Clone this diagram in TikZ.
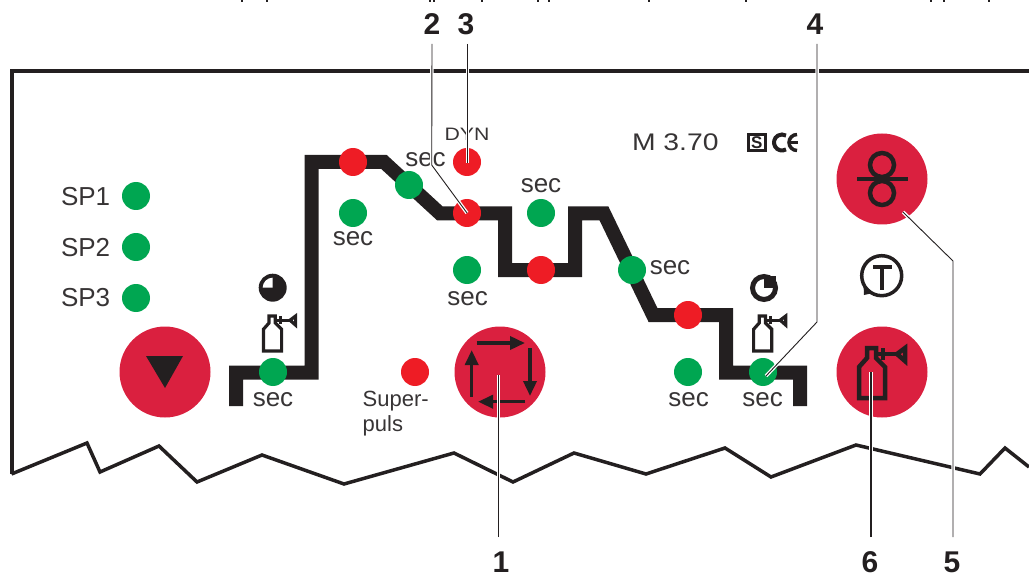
\documentclass[tikz,border=0pt]{standalone}
\usepackage{xcolor}
\usepackage{fontspec}
\usepackage{tikz}
\usetikzlibrary{arrows.meta}
\setmainfont{Liberation Sans}
\newfontfamily\widefont[FakeStretch=1.18]{Liberation Sans}
\definecolor{ink}{RGB}{35, 31, 32}
\definecolor{grey}{RGB}{55, 52, 53}
\definecolor{button}{RGB}{218, 32, 63}
\definecolor{ledred}{RGB}{238, 28, 37}
\definecolor{ledgreen}{RGB}{0, 166, 81}
\tikzset{
  pics/gasflask/.style={code={
    \draw[ink, miter limit=6] (-13,0) -- (-13,-31) -- (-5,-40) -- (-5,-50) -- (4,-50) -- (4,-40) -- (13,-31) -- (13,0) -- cycle;
    \draw[ink] (4,-44) -- (25,-44);
    \draw[ink] (11,-50) -- (11,-38);
    \draw[ink, miter limit=6] (25,-44) -- (33,-50) -- (33,-37) -- cycle;
  }}
}
\begin{document}
\begin{tikzpicture}[x=1pt, y=-1pt,
    every node/.style={inner sep=0pt, outer sep=0pt, text=grey},
    panel/.style={font=\fontsize{26}{30}\selectfont, anchor=base},
    small/.style={font=\fontsize{22}{25}\selectfont, anchor=base west},
    wide/.style={anchor=base},
    numlabel/.style={font=\fontsize{30}{30}\selectfont\bfseries, text=ink, text height=22pt, text depth=0pt, inner xsep=0pt},
    led/.style={circle, minimum size=28pt},
    reddot/.style={led, fill=ledred},
    greendot/.style={led, fill=ledgreen},
    pushbutton/.style={circle, minimum size=91pt, fill=button},
    leader/.style={draw=ink, line width=#1, preaction={draw=white, line width=3.5pt}},
    leader/.default=0.9pt,
    cyclearrow/.style={draw=ink, fill=ink, line width=3.5pt, -{Triangle[length=15pt, width=13pt]}}]
\useasboundingbox (0,0) rectangle (1029,575);

% Clipped line of text at the top edge
\foreach \x in {242, 267, 430, 434, 482, 538, 549, 649, 746, 931, 944, 989}
  \fill[ink] (\x-1,0) rectangle (\x+1,2);

% Panel outline
\draw[ink, line width=4pt] (1029,71.5) -- (11.5,71.5) -- (11.5,474);
\draw[ink, line width=3.5pt, line join=miter] (11.5,474) -- (87,443) -- (100,472) -- (159,446) -- (197,482) -- (262,455) -- (344,484) -- (454,453) -- (513,482) -- (574,453) -- (646,474) -- (725,448) -- (771,477) -- (856,445) -- (980,474) -- (1005,448) -- (1029,467);

% Welding curve
\draw[ink, line width=14pt, line join=miter] (236,406) -- (236,372.5) -- (311.5,372.5) -- (311.5,162) -- (384,162) -- (440,213.5) -- (505,213.5) -- (505,270) -- (575,270) -- (575,213.5) -- (604,213.5) -- (653,315) -- (726,315) -- (726,372.5) -- (800,372.5) -- (800,406);

% Program lamps
\node[greendot] (spone) at (136,196) {};
\node[greendot] (sptwo) at (136,247) {};
\node[greendot] (spthree) at (136,298) {};
\node[panel, anchor=base west] at (61,205) {SP1};
\node[panel, anchor=base west] at (61,256) {SP2};
\node[panel, anchor=base west] at (61,306.7) {SP3};

% Lamps on the curve
\node[greendot] (preflow) at (273,372) {};
\node[reddot] (start) at (353,162) {};
\node[greendot] (startsec) at (353,213) {};
\node[greendot] (slope) at (409,185) {};
\node[reddot] (dyn) at (467,162) {};
\node[reddot] (main) at (467,213) {};
\node[greendot] (pulse) at (467,270) {};
\node[greendot] (mainsec) at (541,213) {};
\node[reddot] (second) at (541,270) {};
\node[greendot] (downslope) at (632,270) {};
\node[reddot] (crater) at (688,315) {};
\node[greendot] (cratersec) at (688,372) {};
\node[greendot] (postflow) at (763,372) {};
\node[reddot] (superpuls) at (415,372) {};

% Lamp texts
\node[panel] at (273,406.5) {sec};
\node[panel] at (353,245.5) {sec};
\node[panel] at (425.5,167) {sec};
\node[panel] at (541,193) {sec};
\node[panel] at (467.7,305.5) {sec};
\node[panel] at (670,274.5) {sec};
\node[panel] at (688.7,406.5) {sec};
\node[panel] at (762.7,406.5) {sec};
\node[small] at (362.7,406) {Super-};
\node[small] at (362.7,431) {puls};
\node[wide, font=\fontsize{18}{20}\selectfont\widefont] at (467,141) {DYN};
\node[wide, anchor=base west, font=\fontsize{24}{25}\selectfont\widefont] (model) at (632,150.7) {M 3.70};

% Marks next to the model name
\draw[ink, line width=3pt] (748.2,134.2) rectangle (765.2,150.5);
\node[anchor=base, text=ink, font=\fontsize{17}{17}\selectfont\bfseries] (smark) at (756.7,148.5) {S};
\draw[ink, line width=4pt] (782,142.5) ++(60:8) arc[start angle=60, end angle=300, radius=8];
\draw[ink, line width=3.5pt] (797,150.5) arc[start angle=90, end angle=270, radius=8];
\draw[ink, line width=2.5pt] (790,142.5) -- (798,142.5);

% Buttons
\node[pushbutton] (selector) at (165,372) {};
\node[pushbutton] (mode) at (500,372) {};
\node[pushbutton] (wire) at (882,179) {};
\node[pushbutton] (gastest) at (882,372) {};

% Button symbols
\fill[ink] (146,356) -- (183,356) -- (165,388) -- cycle;
\draw[cyclearrow] (476.7,343) -- (525,343);
\draw[cyclearrow] (530,348) -- (530,396);
\draw[cyclearrow] (525,401.7) -- (478,401.7);
\draw[cyclearrow] (471.7,396.7) -- (471.7,350);
\draw[ink, line width=4.5pt] (882,165) circle[radius=12];
\draw[ink, line width=4.5pt] (882,193) circle[radius=12];
\draw[ink, line width=4.5pt] (857,179) -- (908,179);
\pic[line width=4.5pt] at (872,398) {gasflask};

% Gas symbols and clocks
\pic[scale=0.7, line width=3.2pt] at (272.5,351) {gasflask};
\pic[scale=0.7, line width=3.2pt] at (762.7,351) {gasflask};
\fill[ink] (272.7,287.7) circle[radius=14];
\fill[white] (272.7,287.7) -- (262.7,287.7) arc[start angle=180, end angle=270, radius=10] -- cycle;
\fill[white] (764,288) circle[radius=10];
\draw[ink, line width=5pt] (764,288) circle[radius=11.5];
\fill[ink] (764,288) -- (764,276) -- (776,276) -- (776,288) -- cycle;

% Timer symbol
\draw[ink, line width=3.5pt] (881.7,275.7) circle[radius=20];
\draw[ink, line width=4pt] (873,267) -- (892,267);
\draw[ink, line width=4pt] (881.7,267) -- (881.7,290);
\fill[ink] (863.5,284) -- (864,295) -- (873,293) -- cycle;

% Number labels
\node[numlabel, inner ysep=9pt, anchor=south] (labtwo) at (432,44) {2};
\node[numlabel, inner ysep=9pt, anchor=south] (labthree) at (466,44) {3};
\node[numlabel, inner ysep=9pt, anchor=south] (labfour) at (815,44) {4};
\node[numlabel, anchor=north] (labone) at (501,550) {1};
\node[numlabel, anchor=north] (labsix) at (870,550) {6};
\node[numlabel, anchor=north] (labfive) at (952,550) {5};

% Leader lines
\coordinate (bendtwo) at (431.7,165);
\coordinate (bendfour) at (817,322);
\coordinate (bendfive) at (953,261);
\draw[leader] (labtwo.south) -- (bendtwo) -- (main.center);
\draw[leader=1.5pt] ([xshift=1.7pt]labthree.south) -- ([xshift=0.7pt,yshift=-1pt]dyn.center);
\draw[leader] ([xshift=2pt]labfour.south) -- (bendfour) -- ([xshift=3pt,yshift=-4pt]postflow.center);
\draw[leader=1.3pt] ([xshift=-2.3pt,yshift=13pt]labone.north) -- ([xshift=-1.3pt,yshift=-3pt]mode.center);
\draw[leader=1.3pt] ([xshift=1pt,yshift=13pt]labsix.north) -- ([xshift=-11pt]gastest.center);
\draw[leader] ([xshift=1pt,yshift=13pt]labfive.north) -- (bendfive) -- ([xshift=21pt,yshift=-33pt]wire.center);
\end{tikzpicture}
\end{document}
